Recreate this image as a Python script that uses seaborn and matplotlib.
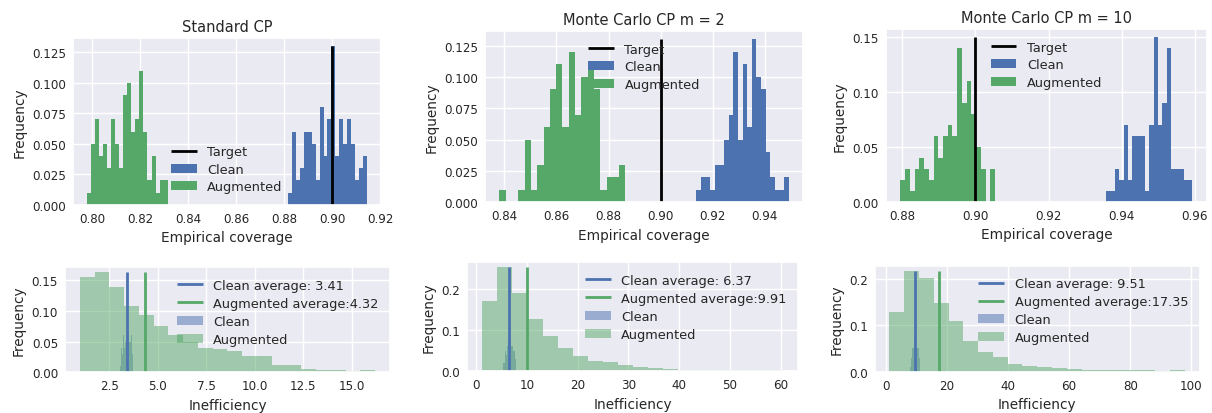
import numpy as np
import pandas as pd
import matplotlib
matplotlib.use("Agg")
import matplotlib.pyplot as plt
from matplotlib.ticker import MultipleLocator
import seaborn as sns

# --- data ---
titles = ["Standard CP", "Monte Carlo CP m = 2", "Monte Carlo CP m = 10"]
target = 0.9

# empirical coverage histograms: frequency per bin (20 bins) and bin range
cov_clean_std = [0.01, 0.06, 0.02, 0.03, 0.06, 0.06, 0.05, 0.02, 0.08, 0.04,
                 0.07, 0.13, 0.04, 0.07, 0.05, 0.07, 0.05, 0.02, 0.03, 0.04]
cov_clean_std_range = (0.8815, 0.9144)
cov_aug_std = [0.01, 0.05, 0.07, 0.04, 0.05, 0.03, 0.07, 0.05, 0.03, 0.09,
               0.10, 0.06, 0.07, 0.11, 0.06, 0.02, 0.04, 0.01, 0.02, 0.02]
cov_aug_std_range = (0.7978, 0.8315)

cov_clean_m2 = [0.01, 0.02, 0.02, 0.01, 0.03, 0.03, 0.05, 0.07, 0.12, 0.05,
                0.11, 0.06, 0.13, 0.10, 0.09, 0.04, 0.02, 0.01, 0.01, 0.02]
cov_clean_m2_range = (0.9138, 0.9492)
cov_aug_m2 = [0.01, 0.00, 0.00, 0.01, 0.05, 0.01, 0.03, 0.06, 0.09, 0.11,
              0.06, 0.12, 0.07, 0.10, 0.11, 0.09, 0.01, 0.02, 0.02, 0.03]
cov_aug_m2_range = (0.8381, 0.8865)

cov_clean_m10 = [0.01, 0.01, 0.03, 0.02, 0.07, 0.02, 0.06, 0.06, 0.06, 0.01,
                 0.07, 0.15, 0.07, 0.09, 0.14, 0.03, 0.03, 0.03, 0.02, 0.02]
cov_clean_m10_range = (0.9358, 0.9593)
cov_aug_m10 = [0.02, 0.03, 0.01, 0.03, 0.04, 0.03, 0.02, 0.06, 0.04, 0.06,
               0.07, 0.06, 0.14, 0.09, 0.11, 0.08, 0.05, 0.03, 0.00, 0.03]
cov_aug_m10_range = (0.8795, 0.9054)

# inefficiency histograms
ineff_clean_std = [0.01, 0.02, 0.04, 0.03, 0.05, 0.06, 0.04, 0.06, 0.05, 0.06,
                   0.07, 0.05, 0.06, 0.06, 0.05, 0.06, 0.05, 0.06, 0.04, 0.03]
ineff_clean_std_range = (3.05, 3.73)
ineff_aug_std = [0.155, 0.163, 0.139, 0.108, 0.093, 0.075, 0.060, 0.050, 0.040, 0.038,
                 0.035, 0.027, 0.027, 0.0125, 0.012, 0.0055, 0.004, 0.003, 0.002, 0.003]
ineff_aug_std_range = (0.98, 16.2)

ineff_clean_m2 = [0.01, 0.02, 0.02, 0.04, 0.05, 0.04, 0.06, 0.07, 0.08, 0.06,
                  0.07, 0.08, 0.06, 0.07, 0.06, 0.05, 0.04, 0.05, 0.03, 0.04]
ineff_clean_m2_range = (5.2, 7.9)
ineff_aug_m2 = [0.171, 0.251, 0.189, 0.127, 0.086, 0.057, 0.038, 0.0245, 0.022, 0.0155,
                0.010, 0.007, 0.005, 0.004, 0.004, 0.003, 0.003, 0.003, 0.002, 0.002]
ineff_aug_m2_range = (1.18, 60.5)

ineff_clean_m10 = [0.01, 0.02, 0.03, 0.04, 0.05, 0.06, 0.05, 0.06, 0.07, 0.06,
                   0.06, 0.07, 0.05, 0.06, 0.05, 0.06, 0.05, 0.04, 0.03, 0.02]
ineff_clean_m10_range = (8.0, 11.2)
ineff_aug_m10 = [0.129, 0.217, 0.202, 0.148, 0.108, 0.067, 0.042, 0.031, 0.0165, 0.013,
                 0.011, 0.0072, 0.006, 0.004, 0.004, 0.003, 0.003, 0.003, 0.002, 0.003]
ineff_aug_m10_range = (1.2, 97.9)

clean_avg = [3.41, 6.37, 9.51]
aug_avg = [4.32, 9.91, 17.35]

cov_clean = [(cov_clean_std, cov_clean_std_range), (cov_clean_m2, cov_clean_m2_range),
             (cov_clean_m10, cov_clean_m10_range)]
cov_aug = [(cov_aug_std, cov_aug_std_range), (cov_aug_m2, cov_aug_m2_range),
           (cov_aug_m10, cov_aug_m10_range)]
ineff_clean = [(ineff_clean_std, ineff_clean_std_range), (ineff_clean_m2, ineff_clean_m2_range),
               (ineff_clean_m10, ineff_clean_m10_range)]
ineff_aug = [(ineff_aug_std, ineff_aug_std_range), (ineff_aug_m2, ineff_aug_m2_range),
             (ineff_aug_m10, ineff_aug_m10_range)]

# --- plotting ---
sns.set_theme(style="darkgrid")
blue, green = sns.color_palette("deep")[0], sns.color_palette("deep")[2]
plt.rcParams["font.family"] = ["DejaVu Sans"]


def draw_hist(ax, freq, rng, color, label, alpha=1.0):
    edges = np.linspace(rng[0], rng[1], len(freq) + 1)
    df = pd.DataFrame({"x": (edges[:-1] + edges[1:]) / 2, "w": freq})
    sns.histplot(data=df, x="x", weights="w", bins=list(edges), stat="count", ax=ax,
                 color=color, alpha=alpha, linewidth=0, label=label)
    return max(freq)


fig = plt.figure(figsize=(12.12, 4.14), dpi=100)

top_rects = [[0.0600, 0.5031, 0.2544, 0.4019],
             [0.4002, 0.5089, 0.2624, 0.4133],
             [0.7308, 0.5104, 0.2651, 0.4169]]
bot_rects = [[0.0536, 0.0983, 0.2682, 0.2536],
             [0.3856, 0.1007, 0.2729, 0.2633],
             [0.7217, 0.0998, 0.2682, 0.2560]]
top_leg_loc = ["lower center", "upper center", "upper center"]
top_ystep = [0.025, 0.025, 0.05]
bot_xstep = [2.5, 10, 20]

for i in range(3):
    ax = fig.add_axes(top_rects[i])
    top = max(max(cov_clean[i][0]), max(cov_aug[i][0]))
    ax.vlines(target, 0, top, color="black", linewidth=2, label="Target")
    draw_hist(ax, *cov_clean[i], blue, "Clean")
    draw_hist(ax, *cov_aug[i], green, "Augmented")
    ax.yaxis.set_major_locator(MultipleLocator(top_ystep[i]))
    ax.xaxis.set_major_locator(MultipleLocator(0.02))
    ax.set_title(titles[i], fontsize=10.5, pad=5)
    ax.set_xlabel("Empirical coverage", fontsize=9.8, labelpad=4)
    ax.set_ylabel("Frequency", fontsize=9.8, labelpad=4)
    ax.tick_params(labelsize=8.6, length=0, pad=5)
    ax.legend(loc=top_leg_loc[i], frameon=False, fontsize=9.3, labelspacing=0.35)

for i in range(3):
    ax = fig.add_axes(bot_rects[i])
    top = max(max(ineff_clean[i][0]), max(ineff_aug[i][0]))
    ax.vlines(clean_avg[i], 0, top, color=blue, linewidth=2,
              label=f"Clean average: {clean_avg[i]}")
    ax.vlines(aug_avg[i], 0, top, color=green, linewidth=2,
              label=f"Augmented average:{aug_avg[i]}")
    draw_hist(ax, *ineff_clean[i], blue, "Clean", alpha=0.5)
    draw_hist(ax, *ineff_aug[i], green, "Augmented", alpha=0.5)
    ax.xaxis.set_major_locator(MultipleLocator(bot_xstep[i]))
    ax.set_xlabel("Inefficiency", fontsize=9.8, labelpad=4)
    ax.set_ylabel("Frequency", fontsize=9.8, labelpad=4)
    ax.tick_params(labelsize=8.6, length=0, pad=5)
    ax.legend(loc="upper right", frameon=False, fontsize=9.3, labelspacing=0.38)

fig.savefig("out.png", dpi=100)
